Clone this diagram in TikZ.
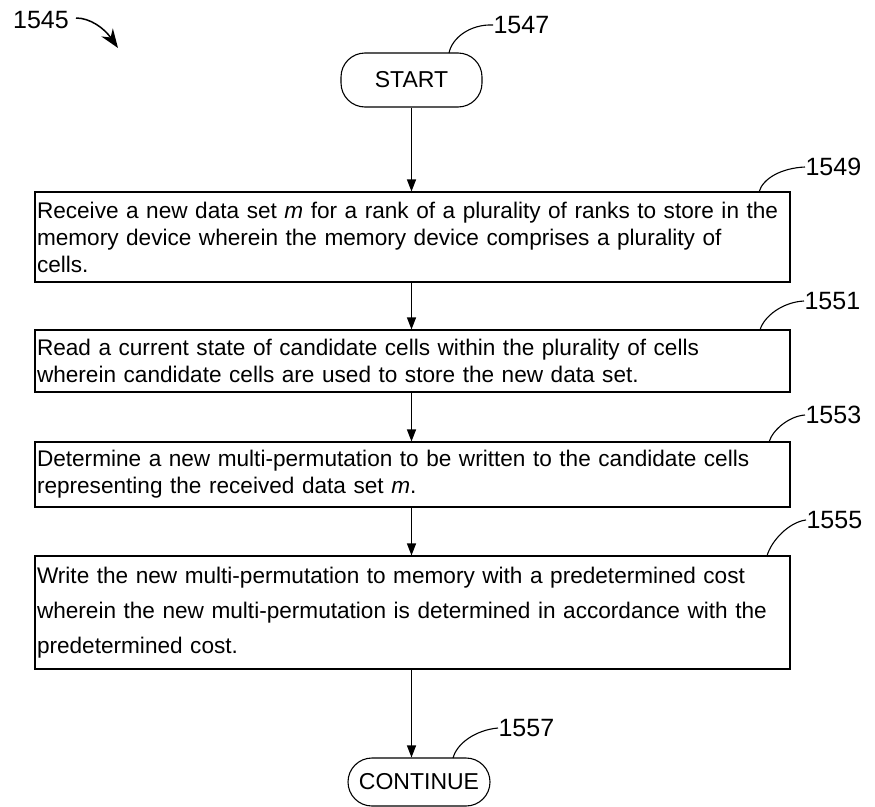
\documentclass[tikz,border=0pt]{standalone}
\usepackage{fontspec}
\setmainfont{Liberation Sans}
\usetikzlibrary{arrows.meta}
\begin{document}
\begin{tikzpicture}[x=1pt,y=-1pt,
  line width=1.1pt,
  boxtxt/.style={draw,rectangle,line width=1.1pt,inner xsep=2pt,inner ysep=0pt,
     text width=751pt,align=left,font=\fontsize{22.6}{27}\selectfont},
  term/.style={draw,rectangle,rounded corners=24pt,line width=1.1pt,inner sep=0pt,
     font=\fontsize{23}{27}\selectfont},
  reflabel/.style={font=\fontsize{25}{28}\selectfont,inner sep=0pt,anchor=west},
  flow/.style={-{Triangle[length=12pt,width=9pt]},line width=1.1pt},
  leader/.style={line width=1.1pt}]
\useasboundingbox (0,0) rectangle (875,806);

% terminals
\node[term,minimum width=141pt,minimum height=54pt] (start) at (411.5,80) {START};
\node[term,minimum width=142pt,minimum height=48pt] (cont) at (419,782) {CONTINUE};

% process boxes
\node[boxtxt,minimum height=90pt] (b1) at (412.5,237) {Receive a new data set \emph{m} for a rank of a plurality of ranks to store in the\\memory device wherein the memory device comprises a plurality of\\cells.};
\node[boxtxt,minimum height=62pt] (b2) at (412.5,361) {Read a current state of candidate cells within the plurality of cells\\wherein candidate cells are used to store the new data set.};
\node[boxtxt,minimum height=65pt] (b3) at (412.5,474.5) {Determine a new multi-permutation to be written to the candidate cells\\representing the received data set \emph{m}.};
\node[boxtxt,minimum height=113pt,font=\fontsize{22.6}{35}\selectfont] (b4) at (412.5,612.5) {Write the new multi-permutation to memory with a predetermined cost\\wherein the new multi-permutation is determined in accordance with the\\predetermined cost.};

% flow arrows
\draw[flow] (start.south) -- (start.south |- b1.north);
\draw[flow] (b1.south -| start.south) -- (b2.north -| start.south);
\draw[flow] (b2.south -| start.south) -- (b3.north -| start.south);
\draw[flow] (b3.south -| start.south) -- (b4.north -| start.south);
\draw[flow] (b4.south -| start.south) -- (start.south |- cont.north);

% reference labels
\node[reflabel,anchor=center] (l1545) at (41,20) {1545};
\coordinate (p1545a) at (76,18);
\coordinate (p1545b) at (118,48);
\draw[line width=1.5pt,-{Stealth[length=19pt,width=14pt]}] (p1545a) .. controls (90,18) and (104,28) .. (p1545b);

\coordinate (s1547) at (449,53);
\node[reflabel] (l1547) at (493,25) {1547};
\draw[leader] (s1547) .. controls (452,38) and (470,24) .. (l1547.west);

\coordinate (s1549) at (759,192);
\node[reflabel] (l1549) at (805,167) {1549};
\draw[leader] (s1549) .. controls (763,178) and (782,168) .. (l1549.west);

\coordinate (s1551) at (760,330);
\node[reflabel] (l1551) at (804,301) {1551};
\draw[leader] (s1551) .. controls (764,316) and (783,302) .. (l1551.west);

\coordinate (s1553) at (769,442);
\node[reflabel] (l1553) at (805,415) {1553};
\draw[leader] (s1553) .. controls (773,429) and (790,416) .. (l1553.west);

\coordinate (s1555) at (767,556);
\node[reflabel] (l1555) at (806,520) {1555};
\draw[leader] (s1555) .. controls (771,541) and (789,522) .. (l1555.west);

\coordinate (s1557) at (453,758);
\node[reflabel] (l1557) at (498,728) {1557};
\draw[leader] (s1557) .. controls (457,743) and (476,730) .. (l1557.west);
\end{tikzpicture}
\end{document}
